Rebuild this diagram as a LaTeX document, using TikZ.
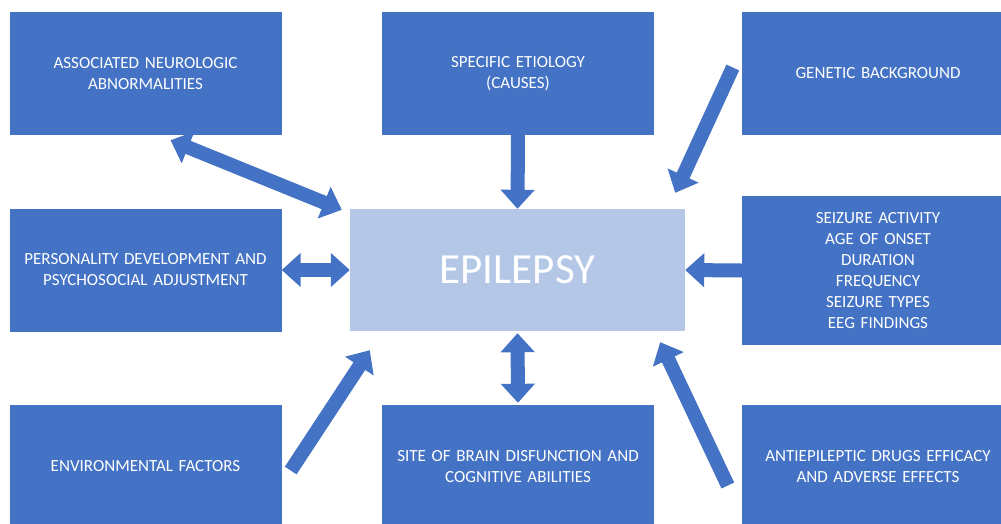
\documentclass[tikz,border=0pt]{standalone}
\usepackage{fontspec}
\setmainfont{Carlito}
\usepackage{tikz}
\usetikzlibrary{calc,arrows.meta}

\definecolor{boxblue}{HTML}{4472C4}
\definecolor{epiblue}{HTML}{B4C7E7}

\tikzset{
    box/.style={fill=boxblue, text=white, minimum width=272pt, minimum height=123pt,
        inner sep=0pt, text width=262pt, align=center, font=\fontsize{17}{21}\selectfont},
    mainbox/.style={box, fill=epiblue, minimum width=335pt, minimum height=122pt,
        text width=320pt, font=\fontsize{43}{50}\selectfont},
    blockarrow/.style={draw=boxblue, line width=14pt,
        -{Triangle[width=33pt,length=19pt]}},
    dblarrow/.style={blockarrow,
        {Triangle[width=33pt,length=19pt]}-{Triangle[width=33pt,length=19pt]}}
}

\begin{document}
\begin{tikzpicture}[x=1pt,y=-1pt]
        \clip (0,0) rectangle (1001,523);
        \useasboundingbox (0,0) rectangle (1001,523);

        % Top row
        \node[box] (anl) at (145.5,73.5) {ASSOCIATED NEUROLOGIC\\ABNORMALITIES};
        \node[box] (se) at (518,73.5) {SPECIFIC ETIOLOGY\\(CAUSES)};
        \node[box] (gb) at (878,73.5) {GENETIC BACKGROUND};

        % Middle row
        \node[box] (pd) at (145.5,270) {PERSONALITY DEVELOPMENT AND\\PSYCHOSOCIAL ADJUSTMENT};
        \node[mainbox] (epi) at (517.5,270) {EPILEPSY};
        \node[box, minimum height=149pt] (sa) at (878,270.5) {SEIZURE ACTIVITY\\AGE OF ONSET\\DURATION\\FREQUENCY\\SEIZURE TYPES\\EEG FINDINGS};

        % Bottom row
        \node[box] (ef) at (145.5,466.5) {ENVIRONMENTAL FACTORS};
        \node[box] (sb) at (518,466.5) {SITE OF BRAIN DISFUNCTION AND\\COGNITIVE ABILITIES};
        \node[box] (aed) at (878,466.5) {ANTIEPILEPTIC DRUGS EFFICACY\\AND ADVERSE EFFECTS};

        % Arrow ends
        \coordinate (anlout) at ($(anl.south)+(25,5)$);
        \coordinate (anlin) at ($(epi.north west)+(-8,1)$);
        \coordinate (gbout) at ($(gb.west)+(-9,-6)$);
        \coordinate (gbin) at ($(epi.north east)+(-10,-16)$);
        \coordinate (efout) at ($(ef.east)+(9,4)$);
        \coordinate (efin) at ($(epi.south west)+(20,19)$);
        \coordinate (aedout) at ($(aed.west)+(-14,19)$);
        \coordinate (aedin) at ($(epi.south east)+(-25,11)$);

        % Arrows
        \draw[dblarrow] (anlout) -- (anlin);
        \draw[dblarrow] (pd.east) -- (epi.west);
        \draw[blockarrow] (se.south) -- (epi.north);
        \draw[blockarrow] (gbout) -- (gbin);
        \draw[blockarrow] (sa.west) -- (epi.east);
        \draw[blockarrow] (efout) -- (efin);
        \draw[dblarrow, shorten <=2pt, shorten >=2pt] (epi.south) -- (sb.north);
        \draw[blockarrow] (aedout) -- (aedin);
\end{tikzpicture}
\end{document}
